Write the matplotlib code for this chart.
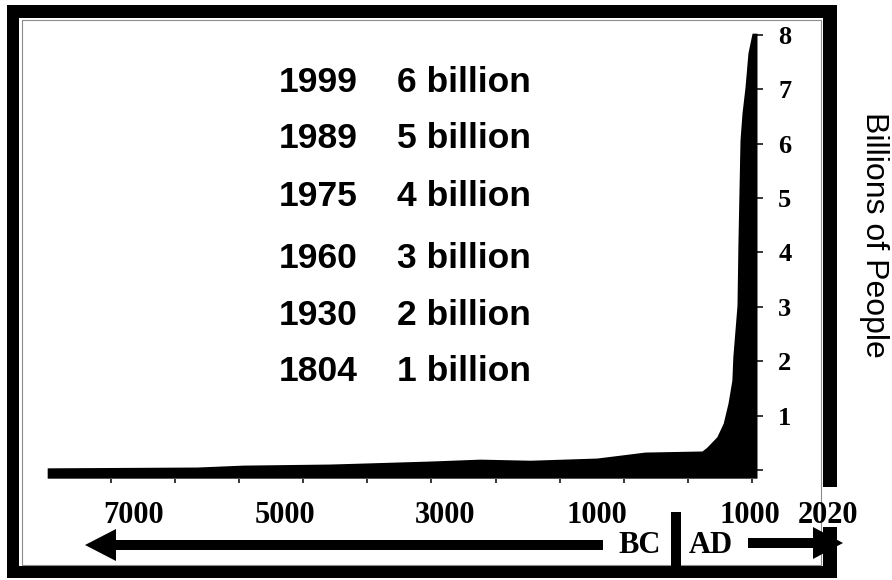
import matplotlib
matplotlib.use('Agg')
import matplotlib.pyplot as plt
from matplotlib.patches import Rectangle, FancyArrow

# population curve (years on the chart's own scale, billions)
years = [-8990, -6650, -5940, -4580, -4005, -3020, -2240, -1460, -420, -10, 330,
         1220, 1295, 1450, 1550, 1625, 1685, 1700, 1765, 1780, 1812, 1843,
         1890, 1936, 2000, 2077]
population = [0.04, 0.055, 0.09, 0.11, 0.13, 0.165, 0.2, 0.18, 0.22, 0.28, 0.33,
              0.35, 0.42, 0.61, 0.86, 1.23, 1.65, 2.08, 3.03, 4.19, 6.07, 6.56,
              7.04, 7.67, 8.03, 8.03]

x_ticks = list(range(-8000, 2001, 1000))
y_ticks = list(range(0, 9))
y_labels = [''] + [str(v) for v in y_ticks[1:]]

time_labels = ['7000', '5000', '3000', '1000', '1000', '2020']
milestone_years = ['1999', '1989', '1975', '1960', '1930', '1804']
milestone_pops = ['6 billion', '5 billion', '4 billion', '3 billion', '2 billion', '1 billion']

W, H = 892, 580
fig = plt.figure(figsize=(W / 100, H / 100), dpi=100)
fig.patch.set_facecolor('white')

# background layer in pixel units for the frame and timeline arrows
bg = fig.add_axes([0, 0, 1, 1])
bg.set_xlim(0, W)
bg.set_ylim(H, 0)
bg.axis('off')

# right side of the frame is broken where the "2020" label sits
frame = [((7, 5), 830, 13), ((7, 566), 830, 12), ((7, 5), 12, 573),
         ((823, 5), 14, 482), ((823, 527), 14, 51)]
for xy, w, h in frame:
    bg.add_patch(Rectangle(xy, w, h, color='black', lw=0))
bg.add_patch(Rectangle((21.5, 19.5), 799, 545.5, fill=False, ec='#8c8c8c', lw=0.8))

# BC / AD divider and arrows
bg.add_patch(Rectangle((671, 512), 10, 56, color='black', lw=0))
bg.add_patch(FancyArrow(603, 545, -518, 0, width=10, head_width=32, head_length=31,
                        length_includes_head=True, color='black', lw=0))
bg.add_patch(FancyArrow(748, 543, 95, 0, width=10, head_width=32, head_length=30,
                        length_includes_head=True, color='black', lw=0))

serif = 'Liberation Serif'
sans = 'Liberation Sans'

bg.text(640, 553, 'BC', ha='center', va='baseline', fontsize=22,
        fontweight='bold', family=serif)
bg.text(711, 553, 'AD', ha='center', va='baseline', fontsize=22,
        fontweight='bold', family=serif)

label_px = [134, 285, 445, 597, 750, 828]
for px, lab in zip(label_px, time_labels):
    bg.text(px, 523, lab, ha='center', va='baseline', fontsize=22,
            fontweight='bold', family=serif)

row_base = [92, 148, 206, 268, 325, 381]
for yb, yr, pop in zip(row_base, milestone_years, milestone_pops):
    bg.text(279, yb, yr, ha='left', va='baseline', fontsize=25.5,
            fontweight='bold', family=sans)
    bg.text(397, yb, pop, ha='left', va='baseline', fontsize=25.5,
            fontweight='bold', family=sans)

bg.text(874, 235, 'Billions of People', rotation=270, ha='center', va='center',
        fontsize=23, family=sans)

# main plot
ax = fig.add_axes([40 / W, (H - 478.5) / H, (757 - 40) / W, (478.5 - 25) / H])
ax.patch.set_visible(False)
ax.fill_between(years, -0.15, population, color='black', lw=0)
ax.set_xlim(-9102, 2077)
ax.set_ylim(-0.156, 8.18)

ax.set_xticks(x_ticks)
ax.set_xticklabels([])
ax.tick_params(axis='x', direction='out', length=3, width=1.1, color='black')
ax.yaxis.tick_right()
ax.set_yticks(y_ticks)
ax.set_yticklabels(y_labels, fontsize=19, fontweight='bold', family=serif)
ax.tick_params(axis='y', direction='out', length=4.3, width=1.1, color='black', pad=11)
for s in ax.spines.values():
    s.set_visible(False)

fig.savefig('out.png', dpi=100)
